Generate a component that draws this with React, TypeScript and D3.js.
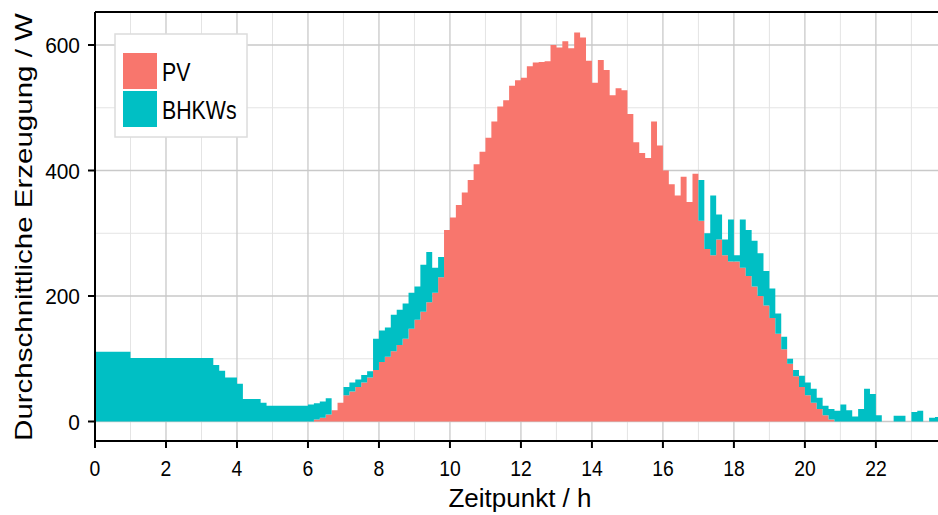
import React from "react";
import * as d3 from "d3";

// Average generation per 10-minute slot, starting at 0:00 (W)
const SLOT_MINUTES = 10;

const pvValues = [
  0, 0, 0, 0, 0, 0, 0, 0, 0, 0, 0, 0, 0, 0, 0, 0, 0, 0, 0, 0,
  0, 0, 0, 0, 0, 0, 0, 0, 0, 0, 0, 0, 0, 0, 0, 0, 0,
  3, 6, 11, 18, 30, 42, 48, 55, 62, 70, 82, 95, 103, 112, 122, 132, 148, 162, 175, 190, 205, 230, 305,
  325, 345, 365, 385, 410, 430, 452, 478, 502, 512,
  535, 544, 548, 566, 572, 573, 574, 600, 596, 606,
  595, 620, 612, 575, 540, 576, 560, 520, 531, 528,
  490, 445, 428, 420, 478, 440, 400, 378, 360, 390,
  350, 395,
  320, 275, 265, 290, 265, 255, 255, 245, 232, 215, 200, 185, 165, 140, 115, 92, 72, 55, 42, 30, 20, 10, 3, 0,
  0, 0, 0, 0, 0, 0, 0, 0, 0, 0, 0, 0, 0, 0, 0, 0, 0,
];

const bhkwValues = [
  111, 111, 111, 111, 111, 111,
  101, 101, 101, 101, 101, 101, 101, 101, 101, 101, 101, 101, 101, 101,
  90, 81, 70, 70, 60, 36, 36, 36, 30,
  25, 25, 25, 25, 25, 25, 25,
  27, 26, 26, 26,
  0, 0,
  13, 14, 12, 12, 10, 50, 50, 47, 58, 56, 56, 57, 53, 75, 80, 40, 32, 0,
  0, 0, 0, 0, 0, 0, 0, 0, 0, 0, 0, 0, 0, 0, 0, 0, 0, 0, 0, 0, 0,
  0, 0, 0, 0, 0, 0, 0, 0, 0, 0, 0, 0, 0, 0, 0, 0, 0, 0, 0, 0, 0,
  65, 25, 95, 40, 25, 67, 10, 77, 73, 73, 68, 55, 47, 32, 20, 8, 10, 18, 20, 22,
  18, 15, 17, 17, 27, 18, 8, 20, 52, 44, 10, 0, 0, 9, 9, 0, 15, 17, 0, 6, 7,
];

const seriesNames = ["PV", "BHKWs"];
const seriesColors = ["#F8766D", "#00BFC4"];

const xMajorTicks = [0, 2, 4, 6, 8, 10, 12, 14, 16, 18, 20, 22];
const xMinorTicks = [1, 3, 5, 7, 9, 11, 13, 15, 17, 19, 21, 23];
const yMajorTicks = [0, 200, 400, 600];
const yMinorTicks = [100, 300, 500];

const xTitle = "Zeitpunkt / h";
const yTitle = "Durchschnittliche Erzeugung / W";

const FONT = "'Liberation Sans', Arial, Helvetica, sans-serif";

export default function App() {
  const width = 938;
  const height = 515;
  const panel = { left: 95, right: 938, top: 12, bottom: 441 };

  const x = d3.scaleLinear().domain([0, 23.75]).range([panel.left, panel.right]);
  const y = d3.scaleLinear().domain([0, 600]).range([421.5, 45]);

  type Row = { t: number; pv: number; total: number };
  const rows: Row[] = pvValues.map((p, i) => ({
    t: (i * SLOT_MINUTES) / 60,
    pv: p,
    total: p + bhkwValues[i],
  }));
  // closing edge of the final slot for the step curve
  const last = rows[rows.length - 1];
  rows.push({ t: (rows.length * SLOT_MINUTES) / 60, pv: last.pv, total: last.total });

  const pvArea = d3
    .area<Row>()
    .x((d) => x(d.t))
    .y0(y(0))
    .y1((d) => y(d.pv))
    .curve(d3.curveStepAfter);

  const bhkwArea = d3
    .area<Row>()
    .x((d) => x(d.t))
    .y0((d) => y(d.pv))
    .y1((d) => y(d.total))
    .curve(d3.curveStepAfter);

  const legend = { x: 115, y: 34, w: 132, h: 103 };

  return (
    <svg
      width={width}
      height={height}
      style={{ position: "absolute", left: 0, top: 0, background: "#fff" }}
      fontFamily={FONT}
    >
      <defs>
        <clipPath id="panel-clip">
          <rect
            x={panel.left}
            y={panel.top}
            width={panel.right - panel.left}
            height={panel.bottom - panel.top}
          />
        </clipPath>
      </defs>

      {/* grid */}
      <g>
        {yMinorTicks.map((v) => (
          <line key={"ym" + v} x1={panel.left} x2={panel.right} y1={y(v)} y2={y(v)} stroke="#e4e4e4" strokeWidth={1} />
        ))}
        {xMinorTicks.map((v) => (
          <line key={"xm" + v} x1={x(v)} x2={x(v)} y1={panel.top} y2={panel.bottom} stroke="#e4e4e4" strokeWidth={1} />
        ))}
        {yMajorTicks.map((v) => (
          <line key={"yM" + v} x1={panel.left} x2={panel.right} y1={y(v)} y2={y(v)} stroke="#c9c9c9" strokeWidth={1.3} />
        ))}
        {xMajorTicks.map((v) => (
          <line key={"xM" + v} x1={x(v)} x2={x(v)} y1={panel.top} y2={panel.bottom} stroke="#c9c9c9" strokeWidth={1.3} />
        ))}
      </g>

      {/* stacked areas */}
      <g clipPath="url(#panel-clip)">
        <path d={pvArea(rows) ?? ""} fill={seriesColors[0]} />
        <path d={bhkwArea(rows) ?? ""} fill={seriesColors[1]} />
      </g>

      {/* panel border / axes */}
      <line x1={panel.left} x2={panel.right} y1={panel.top} y2={panel.top} stroke="#000" strokeWidth={2} />
      <line x1={panel.left} x2={panel.left} y1={panel.top} y2={panel.bottom} stroke="#000" strokeWidth={2} />
      <line x1={panel.left - 1} x2={panel.right} y1={panel.bottom} y2={panel.bottom} stroke="#000" strokeWidth={2} />

      {/* x axis ticks and labels */}
      {xMajorTicks.map((v) => (
        <g key={"xt" + v}>
          <line x1={x(v)} x2={x(v)} y1={panel.bottom} y2={panel.bottom + 7} stroke="#000" strokeWidth={2} />
          <text
            transform={`translate(${x(v)},476) scale(0.9,1)`}
            textAnchor="middle"
            fontSize={21.5}
            fill="#000"
          >
            {v}
          </text>
        </g>
      ))}

      {/* y axis ticks and labels */}
      {yMajorTicks.map((v) => (
        <g key={"yt" + v}>
          <line x1={panel.left - 7} x2={panel.left} y1={y(v)} y2={y(v)} stroke="#000" strokeWidth={2} />
          <text
            transform={`translate(80,${y(v) + 8}) scale(0.95,1)`}
            textAnchor="end"
            fontSize={22}
            fill="#000"
          >
            {v}
          </text>
        </g>
      ))}

      {/* axis titles */}
      <text x={520} y={507} textAnchor="middle" fontSize={26} fill="#000">
        {xTitle}
      </text>
      <text
        transform={`translate(32,227) rotate(-90) scale(1,0.8)`}
        textAnchor="middle"
        fontSize={29.5}
        fill="#000"
      >
        {yTitle}
      </text>

      {/* legend */}
      <g>
        <rect x={legend.x} y={legend.y} width={legend.w} height={legend.h} fill="#fff" stroke="#dcdcdc" strokeWidth={1.5} />
        {seriesNames.map((name, i) => (
          <g key={name}>
            <rect x={123} y={53 + i * 38} width={34} height={36} fill={seriesColors[i]} />
            <text
              transform={`translate(162,${81 + i * 38}) scale(0.82,1)`}
              fontSize={26}
              fill="#000"
            >
              {name}
            </text>
          </g>
        ))}
      </g>
    </svg>
  );
}
